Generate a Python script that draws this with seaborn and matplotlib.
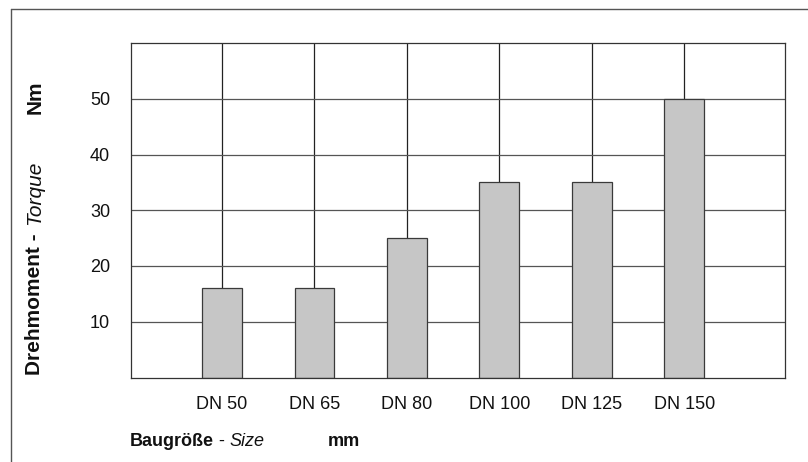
import matplotlib
matplotlib.use("Agg")
import matplotlib.pyplot as plt
import seaborn as sns
import pandas as pd

categories = ["DN 50", "DN 65", "DN 80", "DN 100", "DN 125", "DN 150"]
torque = [16, 16, 25, 35, 35, 50]
y_ticks = [10, 20, 30, 40, 50]

sns.set_style("white")
plt.rcParams["font.family"] = ["Liberation Sans", "DejaVu Sans"]

W, H = 808, 462
fig = plt.figure(figsize=(W / 100, H / 100), dpi=100)
ax = fig.add_axes([131 / W, (H - 377.5) / H, (785 - 131) / W, (377.5 - 43) / H])

df = pd.DataFrame({"size": categories, "torque": torque})

# vertical grid lines at bar centres (behind bars)
for i in range(len(categories)):
    ax.axvline(i, color="#222222", lw=0.9, zorder=0)
for v in y_ticks:
    ax.axhline(v, color="#555555", lw=0.9, zorder=0)

sns.barplot(data=df, x="size", y="torque", ax=ax, width=0.43,
            color="#c6c6c6", saturation=1, edgecolor="#3a3a3a", linewidth=0.9,
            zorder=2)

ax.set_xlim(-0.985, 6.09)
ax.set_ylim(0, 60)
ax.set_yticks(y_ticks)
ax.set_yticklabels([str(v) for v in y_ticks])
ax.set_xlabel("")
ax.set_ylabel("")
ax.tick_params(axis="both", length=0, labelsize=13, colors="#111111")
ax.tick_params(axis="y", pad=15)
ax.tick_params(axis="x", pad=13)
for s in ax.spines.values():
    s.set_visible(True)
    s.set_color("#333333")
    s.set_linewidth(0.9)

# page border (left and top)
fig.add_artist(plt.Line2D([11 / W, 11 / W], [0, (H - 9) / H], color="#555555", lw=1.0))
fig.add_artist(plt.Line2D([11 / W, 1], [(H - 9) / H, (H - 9) / H], color="#555555", lw=1.0))

# y-axis label: bold + italic
t1 = fig.text(35 / W, (H - 375) / H, "Drehmoment - ", rotation=90, rotation_mode="anchor",
              ha="left", va="center", fontsize=15, fontweight="bold", color="#111111")
fig.canvas.draw()
bb = t1.get_window_extent(fig.canvas.get_renderer())
fig.text(35 / W, bb.y1 / H + 3 / H, "Torque", rotation=90, rotation_mode="anchor",
         ha="left", va="center", fontsize=15, fontstyle="italic", color="#111111")
fig.text(35 / W, (H - 97) / H, "Nm", rotation=90, ha="center", va="center",
         fontsize=15, fontweight="bold", color="#111111")

# x-axis label: bold + regular + italic
t2 = fig.text(130 / W, (H - 442) / H, "Baugröße", ha="left", va="center",
              fontsize=13, fontweight="bold", color="#111111")
fig.canvas.draw()
bb2 = t2.get_window_extent(fig.canvas.get_renderer())
t3 = fig.text(bb2.x1 / W, (H - 442) / H, " - ", ha="left", va="center",
              fontsize=13, color="#111111")
fig.canvas.draw()
bb3 = t3.get_window_extent(fig.canvas.get_renderer())
fig.text(bb3.x1 / W, (H - 442) / H, "Size", ha="left", va="center",
         fontsize=13, fontstyle="italic", color="#111111")
fig.text(328 / W, (H - 442) / H, "mm", ha="left", va="center",
         fontsize=13, fontweight="bold", color="#111111")

fig.savefig("out.png", dpi=100, facecolor="white")
